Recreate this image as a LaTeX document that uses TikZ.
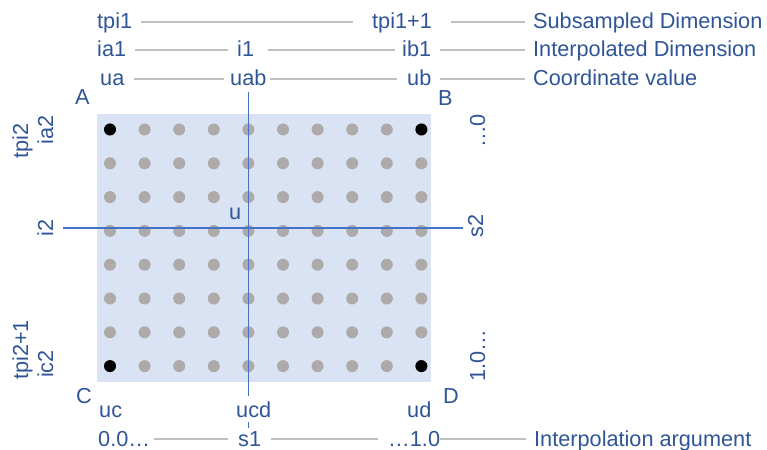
\documentclass[tikz,border=0pt]{standalone}
\usepackage{fontspec}
\setmainfont{Liberation Sans}
\definecolor{txt}{HTML}{2F5597}
\definecolor{gline}{HTML}{BFBFBF}
\definecolor{bline}{HTML}{4472C4}
\definecolor{rectfill}{HTML}{DAE3F3}
\definecolor{dotgray}{HTML}{AEAAAA}
\newcommand\glink[4]{\draw[gl] ([shift={(#3,-7)}]#1.base east) -- ([shift={(-#4,-7)}]#2.base west);}
\begin{document}
\begin{tikzpicture}[x=1bp,y=-1bp,
  lab/.style={text=txt, inner sep=0pt, font=\fontsize{21.7bp}{26bp}\selectfont},
  lw/.style={lab, anchor=base west},
  lv/.style={lab, anchor=base, rotate=90},
  gl/.style={draw=gline, line width=1.2bp},
  bl/.style={draw=bline, line width=1.2bp}]
\useasboundingbox (0,0) rectangle (767,450);
% grid area
\fill[rectfill] (97,114) rectangle (431,382);
\foreach \i in {0,...,9}
  \foreach \j in {0,...,7}
    \fill[dotgray] (110+34.6*\i, 129.5+33.8*\j) circle (6bp);
\foreach \p in {(110,129.5),(421.4,129.5),(110,366.1),(421.4,366.1)}
  \fill[black] \p circle (6bp);
% top rows
\node[lw] (tpi1) at (97,29) {tpi1};
\node[lw] (tpi1p) at (372,29) {tpi1+1};
\node[lw] (subd) at (533,29) {Subsampled Dimension};
\glink{tpi1}{tpi1p}{9}{19}
\glink{tpi1p}{subd}{19}{8}
\node[lw] (ia1) at (97,57) {ia1};
\node[lw] (i1) at (237,57) {i1};
\node[lw] (ib1) at (402,57) {ib1};
\node[lw] (intd) at (533,57) {Interpolated Dimension};
\glink{ia1}{i1}{9}{9}
\glink{i1}{ib1}{14}{7}
\glink{ib1}{intd}{9}{8}
\node[lw] (ua) at (100,86) {ua};
\node[lw] (uab) at (230,86) {uab};
\node[lw] (ub) at (407,86) {ub};
\node[lw] (coord) at (533,86) {Coordinate value};
\glink{ua}{uab}{9}{6}
\glink{uab}{ub}{3}{10}
\glink{ub}{coord}{8}{8}
% bottom row
\node[lw] (z0) at (98,446) {0.0…};
\node[lw] (s1) at (238,446) {s1};
\node[lw] (o1) at (388,446) {…1.0};
\node[lw] (iarg) at (534,446) {Interpolation argument};
\glink{z0}{s1}{4}{10}
\glink{s1}{o1}{10}{10}
\glink{o1}{iarg}{0}{8}
% corner letters
\node[lw] (A) at (75,105) {A};
\node[lw] (B) at (438,106) {B};
\node[lw] (C) at (76,403) {C};
\node[lw] (D) at (443,403) {D};
% side labels
\node[lv] (tpi2) at (28,141) {tpi2};
\node[lv] (ia2) at (53,130) {ia2};
\node[lv] (i2) at (53,228) {i2};
\node[lv] (tpi2p) at (28,350) {tpi2+1};
\node[lv] (ic2) at (53,364) {ic2};
\node[lv] (r0) at (485,131) {…0};
\node[lv] (s2) at (483,226) {s2};
\node[lv] (r1) at (485,356) {1.0…};
% axes
\draw[bl] ([yshift=-6bp]uab.base) -- ([yshift=18bp]uab.base |- s1.base);
\draw[bl] ([xshift=10bp]i2.base) -- ([xshift=-20bp]s2.base |- i2.base);
\node[lw] (u) at (229,220) {u};
% bottom coordinate labels
\node[lw] (uc) at (99,417) {uc};
\node[lw, fill=white, inner ysep=5bp] (ucd) at (236,417) {ucd};
\node[lw] (ud) at (407,417) {ud};
\end{tikzpicture}
\end{document}
